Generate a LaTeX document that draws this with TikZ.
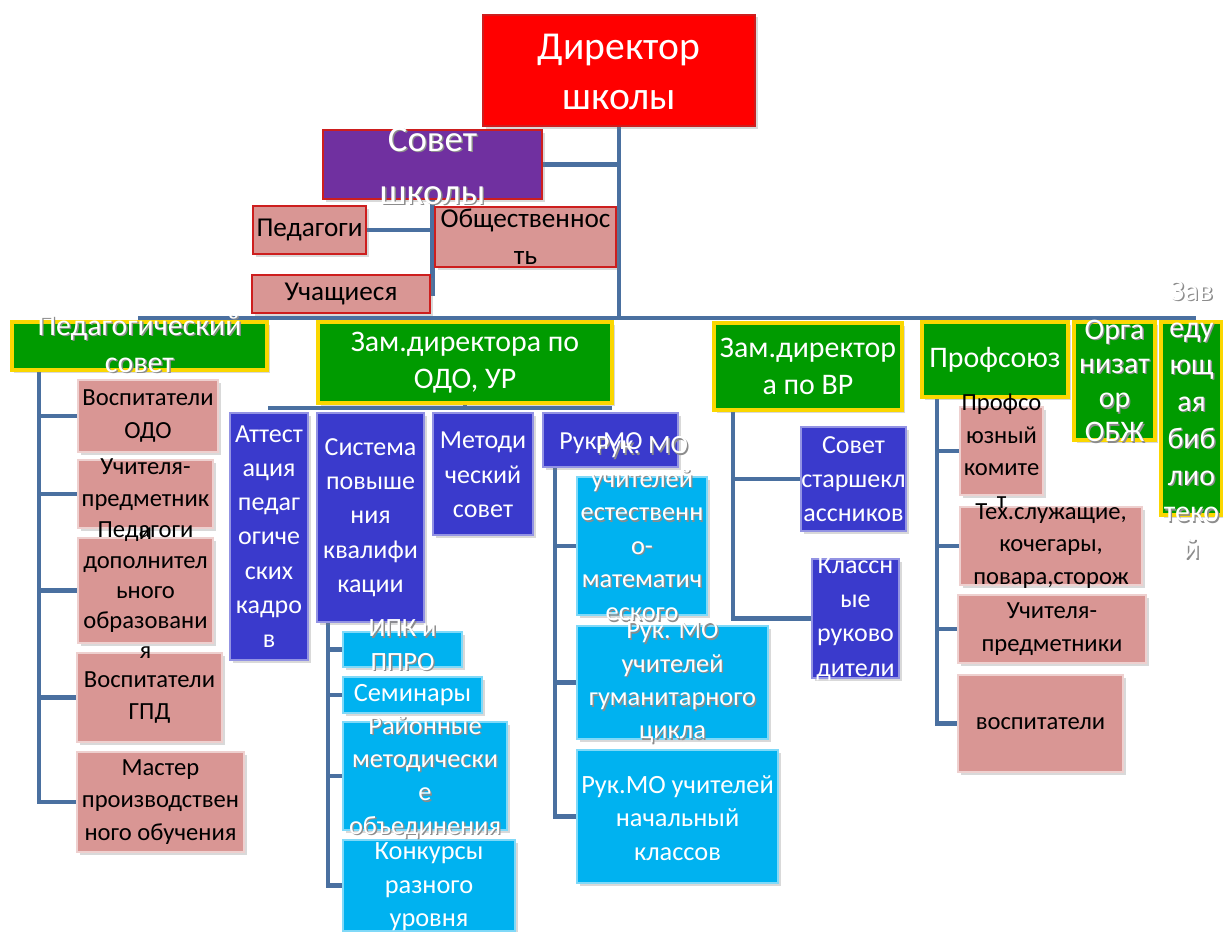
\documentclass[tikz,border=0pt]{standalone}
\usepackage{fontspec}
\setmainfont{Carlito}
\usetikzlibrary{positioning,shadows}

\definecolor{dirred}{RGB}{255,0,0}
\definecolor{redline}{RGB}{205,30,30}
\definecolor{purp}{RGB}{112,48,160}
\definecolor{pinkfill}{RGB}{217,150,148}
\definecolor{grfill}{RGB}{0,155,0}
\definecolor{yell}{RGB}{250,215,0}
\definecolor{bluefill}{RGB}{58,58,204}
\definecolor{cyanfill}{RGB}{0,178,240}
\definecolor{linecol}{RGB}{74,112,160}

\begin{document}
\begin{tikzpicture}
 \tikzset{
box/.style = {rectangle, inner sep=0pt, drop shadow={shadow xshift=0.05cm, shadow yshift=-0.05cm, opacity=0.3}},
Dirbox/.style = {box, fill=dirred, draw=redline, line width=1.3pt},
Sovbox/.style = {box, fill=purp, draw=redline, line width=1.6pt},
redpink/.style = {box, fill=pinkfill, draw=redline, line width=1.4pt},
pink/.style = {box, fill=pinkfill, draw=pinkfill!45, line width=0.8pt},
green/.style = {box, fill=grfill, draw=yell, line width=2pt},
blue/.style = {box, fill=bluefill, draw=bluefill!55, line width=0.8pt},
cyan/.style = {box, fill=cyanfill, draw=cyanfill!50, line width=0.8pt},
txt/.style = {inner sep=0pt, align=center},
dirtxt/.style = {txt, text=white, font=\fontsize{22.5}{28}\selectfont},
sovtxt/.style = {txt, text=white, font=\fontsize{21}{30}\selectfont},
grtxt/.style = {txt, text=white, font=\fontsize{17}{21}\selectfont},
toptxt/.style = {txt, text=black, font=\fontsize{15.5}{21}\selectfont},
pinktxt/.style = {txt, text=black, font=\fontsize{14}{18.5}\selectfont},
bluetxt/.style = {txt, text=white, font=\fontsize{14.8}{19.5}\selectfont},
cyantxt/.style = {txt, text=white, font=\fontsize{15}{19}\selectfont},
shd/.style = {text=black!45, xshift=0.8pt, yshift=-0.8pt},
conn/.style = {line width=2.6pt, draw=linecol}}

\pgfdeclarelayer{background}
\pgfdeclarelayer{textshadow}
\pgfdeclarelayer{foreground}
\pgfsetlayers{background,main,textshadow,foreground}

\useasboundingbox (0,0) rectangle (24.46,-18.62);

  % top
  \node [Dirbox, minimum width=5.44cm, minimum height=2.22cm] (Dir) at (12.38,-1.41) {};
  \node [Sovbox, minimum width=4.38cm, minimum height=1.38cm] (Sovet) at (8.65,-3.29) {};
  \node [redpink, minimum width=2.26cm, minimum height=0.96cm] (Ped) at (6.19,-4.60) {};
  \node [redpink, minimum width=3.62cm, minimum height=1.20cm] (Obsh) at (10.51,-4.74) {};
  \node [redpink, minimum width=3.56cm, minimum height=0.76cm] (Uch) at (6.82,-5.88) {};

  % second row
  \node [green, minimum width=5.10cm, minimum height=0.96cm] (PedSov) at (2.79,-6.92) {};
  \node [green, minimum width=5.88cm, minimum height=1.62cm] (ZamODO) at (9.30,-7.25) {};
  \node [green, minimum width=3.76cm, minimum height=1.74cm] (ZamVR) at (16.16,-7.33) {};
  \node [green, minimum width=2.92cm, minimum height=1.50cm] (Prof) at (19.90,-7.19) {};
  \node [green, minimum width=1.62cm, minimum height=2.36cm] (OBZh) at (22.29,-7.62) {};
  \node [green, minimum width=1.22cm, minimum height=3.86cm] (Zav) at (23.83,-8.37) {};

  % pedagogical council
  \node [pink, minimum width=2.80cm, minimum height=1.44cm] (VospODO) at (2.96,-8.32) {};
  \node [pink, minimum width=2.70cm, minimum height=1.36cm] (UchPr1) at (2.91,-9.88) {};
  \node [pink, minimum width=2.70cm, minimum height=2.10cm] (PedDop) at (2.91,-11.81) {};
  \node [pink, minimum width=2.90cm, minimum height=1.78cm] (VospGPD) at (2.99,-13.95) {};
  \node [pink, minimum width=3.34cm, minimum height=2.00cm] (Master) at (3.21,-16.04) {};

  % deputy ODO
  \node [blue, minimum width=1.56cm, minimum height=4.94cm] (Att) at (5.38,-10.73) {};
  \node [blue, minimum width=2.14cm, minimum height=4.18cm] (Sist) at (7.41,-10.35) {};
  \node [blue, minimum width=2.00cm, minimum height=2.44cm] (Metod) at (9.66,-9.48) {};
  \node [blue, minimum width=2.70cm, minimum height=1.08cm] (RukMO) at (12.21,-8.80) {};

  \node [cyan, minimum width=2.38cm, minimum height=0.70cm] (IPK) at (8.05,-12.99) {};
  \node [cyan, minimum width=2.78cm, minimum height=0.72cm] (Semin) at (8.25,-13.90) {};
  \node [cyan, minimum width=3.28cm, minimum height=2.16cm] (Rayon) at (8.50,-15.52) {};
  \node [cyan, minimum width=3.44cm, minimum height=1.82cm] (Konk) at (8.58,-17.71) {};

  \node [cyan, minimum width=2.60cm, minimum height=2.76cm] (MO1) at (12.84,-10.92) {};
  \node [cyan, minimum width=3.82cm, minimum height=2.26cm] (MO2) at (13.45,-13.65) {};
  \node [cyan, minimum width=4.02cm, minimum height=2.66cm] (MO3) at (13.55,-16.33) {};

  % deputy VR
  \node [blue, minimum width=2.10cm, minimum height=2.08cm] (SovSt) at (17.07,-9.58) {};
  \node [blue, minimum width=1.74cm, minimum height=2.38cm] (Klass) at (17.11,-12.37) {};

  % trade union
  \node [pink, minimum width=1.66cm, minimum height=1.76cm] (ProfKom) at (20.03,-9.02) {};
  \node [pink, minimum width=3.64cm, minimum height=1.56cm] (Teh) at (21.02,-10.92) {};
  \node [pink, minimum width=3.76cm, minimum height=1.36cm] (UchPr2) at (21.04,-12.58) {};
  \node [pink, minimum width=3.30cm, minimum height=1.94cm] (Vosp2) at (20.81,-14.47) {};

    \begin{pgfonlayer}{foreground}
      \node [dirtxt] (DirT) at (12.38,-1.44) {Директор\\школы};
      \node [sovtxt] (SovetT) at (8.65,-3.32) {Совет\\школы};
      \node [toptxt] (PedT) at (Ped) {Педагоги};
      \node [toptxt] (ObshT) at (Obsh) {Общественнос\\ть};
      \node [toptxt] (UchT) at (Uch) {Учащиеся};

      \node [grtxt] (PedSovT) at (2.79,-6.88) {Педагогический\\совет};
      \node [grtxt] (ZamODOT) at (ZamODO) {Зам.директора по\\ОДО, УР};
      \node [grtxt] (ZamVRT) at (ZamVR) {Зам.директор\\а по ВР};
      \node [grtxt] (ProfT) at (Prof) {Профсоюз};
      \node [grtxt, font=\fontsize{17}{19.5}\selectfont] (OBZhT) at (OBZh) {Орга\\низат\\ор\\ОБЖ};
      \node [grtxt] (ZavT) at (23.83,-8.40) {Зав\\еду\\ющ\\ая\\биб\\лио\\теко\\й};

      \node [pinktxt] (VospODOT) at (VospODO) {Воспитатели\\ОДО};
      \node [pinktxt] (UchPr1T) at (2.91,-9.98) {Учителя-\\предметник\\и};
      \node [pinktxt, font=\fontsize{14}{17.2}\selectfont] (PedDopT) at (PedDop) {Педагоги\\дополнител\\ьного\\образовани\\я};
      \node [pinktxt] (VospGPDT) at (VospGPD) {Воспитатели\\ГПД};
      \node [pinktxt] (MasterT) at (Master) {Мастер\\производствен\\ного обучения};

      \node [bluetxt] (AttT) at (Att) {Аттест\\ация\\педаг\\огиче\\ских\\кадро\\в};
      \node [bluetxt] (SistT) at (Sist) {Система\\повыше\\ния\\квалифи\\кации};
      \node [bluetxt] (MetodT) at (9.66,-9.50) {Методи\\ческий\\совет};
      \node [bluetxt] (RukMOT) at (12.02,-8.86) {Рук.МО};

      \node [cyantxt] (IPKT) at (8.05,-12.90) {ИПК и\\ППРО};
      \node [cyantxt] (SeminT) at (Semin) {Семинары};
      \node [cyantxt] (RayonT) at (8.50,-15.55) {Районные\\методически\\е\\объединения};
      \node [cyantxt] (KonkT) at (8.58,-17.74) {Конкурсы\\разного\\уровня};

      \node [cyantxt] (MO1T) at (12.84,-10.58) {Рук. МО\\учителей\\естественн\\о-\\математич\\еского};
      \node [cyantxt] (MO2T) at (MO2) {Рук. МО\\учителей\\гуманитарного\\цикла};
      \node [cyantxt] (MO3T) at (13.55,-16.36) {Рук.МО учителей\\начальный\\классов};

      \node [bluetxt] (SovStT) at (SovSt) {Совет\\старшекл\\ассников};
      \node [bluetxt] (KlassT) at (Klass) {Классн\\ые\\руково\\дители};

      \node [pinktxt] (ProfKomT) at (ProfKom) {Профсо\\юзный\\комите\\т};
      \node [pinktxt] (TehT) at (Teh) {Тех.служащие,\\кочегары,\\повара,сторож};
      \node [pinktxt] (UchPr2T) at (UchPr2) {Учителя-\\предметники};
      \node [pinktxt] (Vosp2T) at (Vosp2) {воспитатели};
    \end{pgfonlayer}

    % grey shadows under white text that runs out of its box
    \begin{pgfonlayer}{textshadow}
      \node [sovtxt, shd] (SovetS) at (SovetT) {Совет\\школы};
      \node [grtxt, shd] (PedSovS) at (PedSovT) {Педагогический\\совет};
      \node [grtxt, shd, font=\fontsize{17}{19.5}\selectfont] (OBZhS) at (OBZhT) {Орга\\низат\\ор\\ОБЖ};
      \node [grtxt, shd] (ZavS) at (ZavT) {Зав\\еду\\ющ\\ая\\биб\\лио\\теко\\й};
      \node [cyantxt, shd] (IPKS) at (IPKT) {ИПК и\\ППРО};
      \node [cyantxt, shd] (RayonS) at (RayonT) {Районные\\методически\\е\\объединения};
      \node [cyantxt, shd] (MO1S) at (MO1T) {Рук. МО\\учителей\\естественн\\о-\\математич\\еского};
      \node [cyantxt, shd] (MO2S) at (MO2T) {Рук. МО\\учителей\\гуманитарного\\цикла};
    \end{pgfonlayer}

    \begin{pgfonlayer}{background}
      \coordinate (BusL) at (2.76,-6.36);
      \coordinate (BusR) at (23.92,-6.36);
      \coordinate (OB) at (5.36,-8.16);
      \coordinate (OBR) at (12.24,-8.16);
      \coordinate (PL) at (0.78,-7.40);
      \coordinate (SL) at (6.56,-12.44);
      \coordinate (RL) at (11.10,-9.34);
      \coordinate (VL) at (14.66,-8.20);
      \coordinate (PrL) at (18.74,-7.94);

      \draw [conn] (Dir.south) -- (Dir.south |- BusL);
      \draw [conn] (BusL) -- (BusR);
      \draw [conn] (Sovet.east) -- (Sovet.east -| Dir.south);
      \draw [conn] (Sovet.south) |- (Uch.east);
      \draw [conn] (Ped.east) -- (Ped.east -| Sovet.south);

      \draw [conn] (PL) |- (Master.west);
      \draw [conn] (PL |- VospODO.west) -- (VospODO.west);
      \draw [conn] (PL |- UchPr1.west) -- (UchPr1.west);
      \draw [conn] (PL |- PedDop.west) -- (PedDop.west);
      \draw [conn] (PL |- VospGPD.west) -- (VospGPD.west);

      \draw [conn] (ZamODO.south) -- (ZamODO.south |- OB);
      \draw [conn] (OB) -- (OBR);

      \draw [conn] (SL) |- (Konk.west);
      \draw [conn] (SL |- IPK.west) -- (IPK.west);
      \draw [conn] (SL |- Semin.west) -- (Semin.west);
      \draw [conn] (SL |- Rayon.west) -- (Rayon.west);

      \draw [conn] (RL) |- (MO3.west);
      \draw [conn] (RL |- MO1.west) -- (MO1.west);
      \draw [conn] (RL |- MO2.west) -- (MO2.west);

      \draw [conn] (VL) |- (Klass.west);
      \draw [conn] (VL |- SovSt.west) -- (SovSt.west);

      \draw [conn] (PrL) |- (Vosp2.west);
      \draw [conn] (PrL |- ProfKom.west) -- (ProfKom.west);
      \draw [conn] (PrL |- Teh.west) -- (Teh.west);
      \draw [conn] (PrL |- UchPr2.west) -- (UchPr2.west);
    \end{pgfonlayer}

  \end{tikzpicture}
\end{document}
